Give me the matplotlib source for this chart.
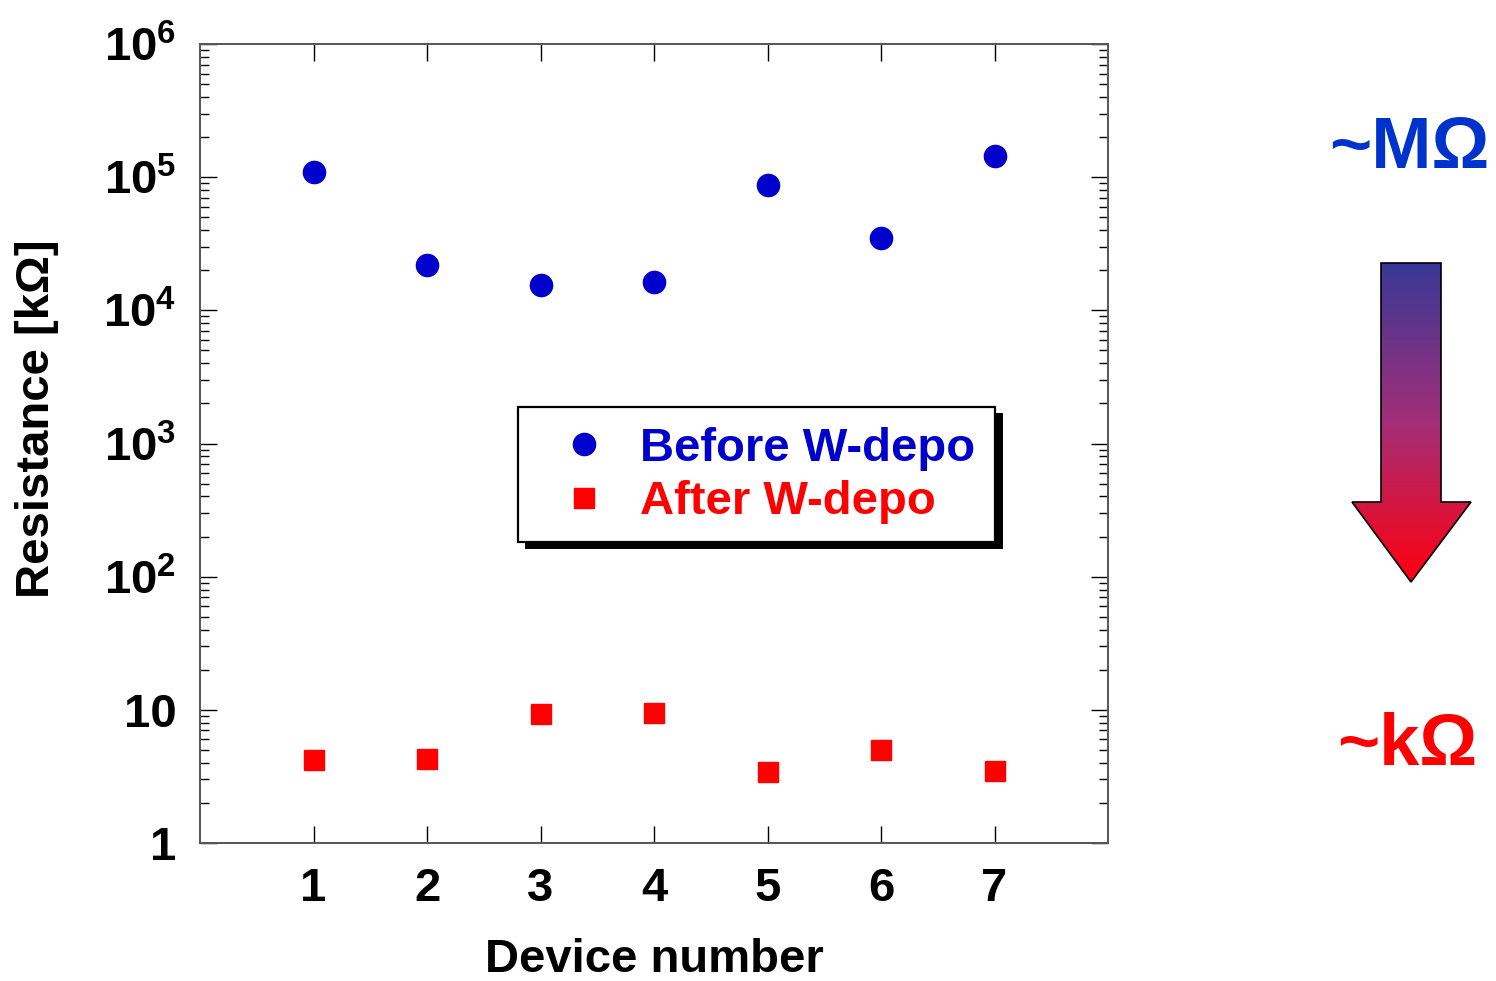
import numpy as np
import matplotlib
matplotlib.use("Agg")
import matplotlib.pyplot as plt
from matplotlib.patches import Polygon, Rectangle
from matplotlib.colors import LinearSegmentedColormap
from matplotlib.ticker import FixedLocator, LogLocator, NullFormatter

plt.rcParams['font.family'] = ['Liberation Sans', 'DejaVu Sans']
plt.rcParams['font.weight'] = 'bold'
plt.rcParams['mathtext.fontset'] = 'custom'
plt.rcParams['mathtext.rm'] = 'Liberation Sans:bold'
plt.rcParams['mathtext.bf'] = 'Liberation Sans:bold'

# dane
device = [1, 2, 3, 4, 5, 6, 7]
before = [1.1e5, 2.2e4, 1.55e4, 1.63e4, 8.7e4, 3.5e4, 1.44e5]
after = [4.2, 4.3, 9.3, 9.5, 3.4, 5.0, 3.5]
yticks = [1, 10, 1e2, 1e3, 1e4, 1e5, 1e6]
ylabels = ['1', '10', '$10^{2}$', '$10^{3}$', '$10^{4}$', '$10^{5}$', '$10^{6}$']

W, H = 1496, 981
fig = plt.figure(figsize=(W / 100, H / 100), dpi=100)
ax = fig.add_axes([200 / W, 1 - 843 / H, 908 / W, 799 / H])

blue = '#0000cc'
red = '#ff0000'
ax.plot(device, before, 'o', color=blue, markersize=16, label='Before W-depo', zorder=3)
ax.plot(device, after, 's', color=red, markersize=15, label='After W-depo', zorder=3)

ax.set_yscale('log')
ax.set_ylim(1, 1e6)
ax.set_xlim(0, 8)
ax.set_xticks(device)
ax.set_xticklabels([str(d) for d in device])
ax.yaxis.set_major_locator(FixedLocator(yticks))
ax.set_yticklabels(ylabels)
ax.yaxis.set_minor_locator(LogLocator(base=10, subs=np.arange(2, 10), numticks=20))
ax.yaxis.set_minor_formatter(NullFormatter())

for s in ax.spines.values():
    s.set_color('#555555')
    s.set_linewidth(1.4)
ax.tick_params(axis='both', which='major', direction='in', length=12, width=1.0,
               labelsize=34, pad=17, top=True, right=True)
ax.tick_params(axis='y', which='minor', direction='in', length=6.5, width=1.0,
               left=True, right=True)
ax.tick_params(axis='x', which='minor', bottom=False, top=False)
for t in ax.get_xticklabels() + ax.get_yticklabels():
    t.set_fontweight('bold')

fig.text(487 / W + 335 / W / 2, 1 - 960 / H, 'Device number', fontsize=34,
         fontweight='bold', ha='center', va='center')
fig.text(37 / W, 1 - 419 / H, 'Resistance [kΩ]', fontsize=34, fontweight='bold',
         rotation=90, ha='center', va='center')

# overlay em pixels para caixa da legenda, seta e textos
ov = fig.add_axes([0, 0, 1, 1], zorder=5)
ov.set_xlim(0, W)
ov.set_ylim(H, 0)
ov.axis('off')
ov.patch.set_alpha(0)

ov.add_patch(Rectangle((525, 413), 478, 136, facecolor='black', edgecolor='none', zorder=1))
ov.add_patch(Rectangle((518, 407), 477, 135, facecolor='white', edgecolor='black',
                       linewidth=1.6, zorder=2))

leg = ax.legend(loc='upper left', bbox_to_anchor=(560 / W, 1 - 427 / H),
                bbox_transform=fig.transFigure, frameon=False, borderpad=0,
                borderaxespad=0, handlelength=1.0, handletextpad=0.7,
                labelspacing=0.2, prop={'size': 34, 'weight': 'bold'})
for txt, c in zip(leg.get_texts(), [blue, red]):
    txt.set_color(c)
leg.remove()
ov.add_artist(leg)
leg.set_zorder(10)

# seta com gradiente
arrow_pts = [(1381, 263), (1441, 263), (1441, 502), (1471, 502), (1411, 582),
             (1352, 502), (1381, 502)]
arrow = Polygon(arrow_pts, closed=True, facecolor='none', edgecolor='black',
                linewidth=1.2, zorder=3)
ov.add_patch(arrow)
cmap = LinearSegmentedColormap.from_list(
    'seta', [(0.0, (0.22, 0.22, 0.59)), (0.5, (0.64, 0.18, 0.47)), (1.0, (1.0, 0.0, 0.06))])
grad = np.linspace(0, 1, 256).reshape(-1, 1)
im = ov.imshow(grad, cmap=cmap, extent=(1352, 1471, 582, 263), aspect='auto', zorder=2)
clip = Polygon(arrow_pts, closed=True, transform=ov.transData)
im.set_clip_path(clip)
ov.set_xlim(0, W)
ov.set_ylim(H, 0)

ov.text(1409, 168, '~MΩ', fontsize=52, fontweight='bold', color='#0033cc',
        ha='center', va='baseline')
ov.text(1407, 765, '~kΩ', fontsize=52, fontweight='bold', color=red,
        ha='center', va='baseline')

fig.savefig('out.png', dpi=100)
